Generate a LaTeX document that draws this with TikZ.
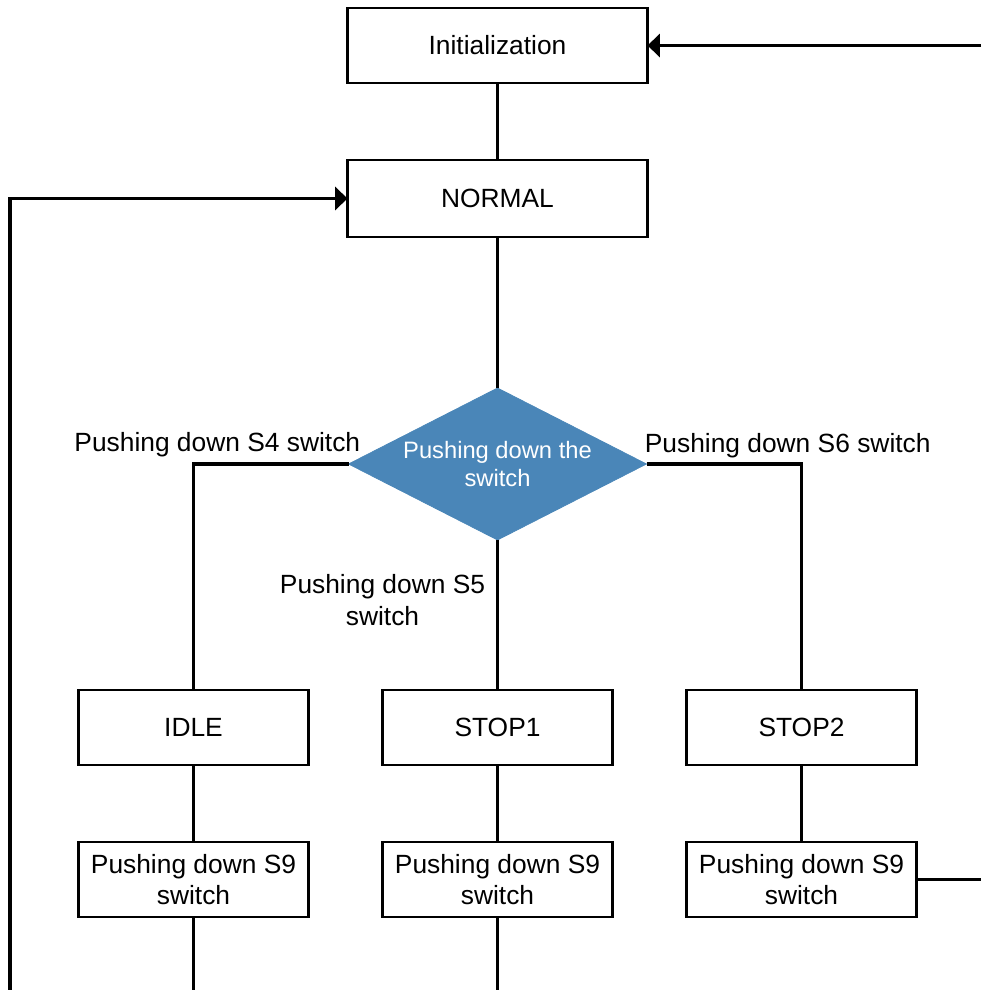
\documentclass[tikz,border=0pt]{standalone}
\usepackage{fontspec}
\setmainfont{Liberation Sans}
\usetikzlibrary{calc,shapes.geometric,arrows.meta,positioning}
\definecolor{swblue}{RGB}{74,134,184}

\begin{document}
\begin{tikzpicture}[
    box/.style={draw, line width=1.3pt, rectangle, outer sep=0pt, minimum width=6cm, minimum height=1.5cm, font=\fontsize{15}{18}\selectfont},
    smallbox/.style={box, minimum width=4.6cm, align=center},
    decision/.style={diamond, aspect=2, fill=swblue, draw=swblue, outer sep=0pt, minimum width=5.96cm, minimum height=3.04cm, inner sep=0pt, text=white, align=center, font=\fontsize{13.5}{16}\selectfont},
    line/.style={line width=2.2pt},
    arrow/.style={line, -{Triangle[length=7pt, width=13pt]}},
    lbl/.style={inner sep=0pt, align=center, font=\fontsize{15}{18}\selectfont},
    node distance=1.54cm
]
\useasboundingbox (0,0) rectangle (19.62,-19.8);

% Top of the chart
\node[box] (init) at (9.95,-0.91) {Initialization};
\node[box, minimum height=1.54cm, below=of init] (normal) {NORMAL};
\node[decision, below=3.02cm of normal] (sw) {Pushing down the\\switch};

% States after the decision
\node[smallbox, below=3cm of sw] (stop1) {STOP1};
\node[smallbox, left=1.48cm of stop1] (idle) {IDLE};
\node[smallbox, right=1.48cm of stop1] (stop2) {STOP2};

% S9 boxes
\node[smallbox, below=of idle] (push1) {Pushing down S9\\switch};
\node[smallbox, below=of stop1] (push2) {Pushing down S9\\switch};
\node[smallbox, below=of stop2] (push3) {Pushing down S9\\switch};

% Connectors
\draw[line] (init) -- (normal);
\draw[line] (normal) -- (sw);
\draw[line] (sw.west) -| (idle.north);
\draw[line] (sw.east) -| (stop2.north);
\draw[line] (sw.south) -- (stop1.north);
\foreach \a/\b in {idle/push1,stop1/push2,stop2/push3}
    \draw[line] (\a) -- (\b);

% Branch labels
\node[lbl, anchor=base east] (s4) at ($(sw.west)+(0.24,0.26)$) {Pushing down S4 switch};
\node[lbl, anchor=base west] (s6) at ($(sw.east)+(-0.04,0.24)$) {Pushing down S6 switch};
\node[lbl] (s5) at ($(sw.south)+(-2.3,-1.2)$) {Pushing down S5\\switch};

% Paths that leave the picture
\coordinate (rin) at (19.62,-0.91);
\coordinate (lback) at (0.2,-19.8);
\draw[arrow] (rin) -- (init.east);
\draw[line] (push3.east) -- (push3.east -| rin);
\draw[arrow] (lback) |- (normal.west);
\foreach \b in {push1,push2}
    \draw[line] (\b.south) -- (\b.south |- lback);

\end{tikzpicture}
\end{document}
